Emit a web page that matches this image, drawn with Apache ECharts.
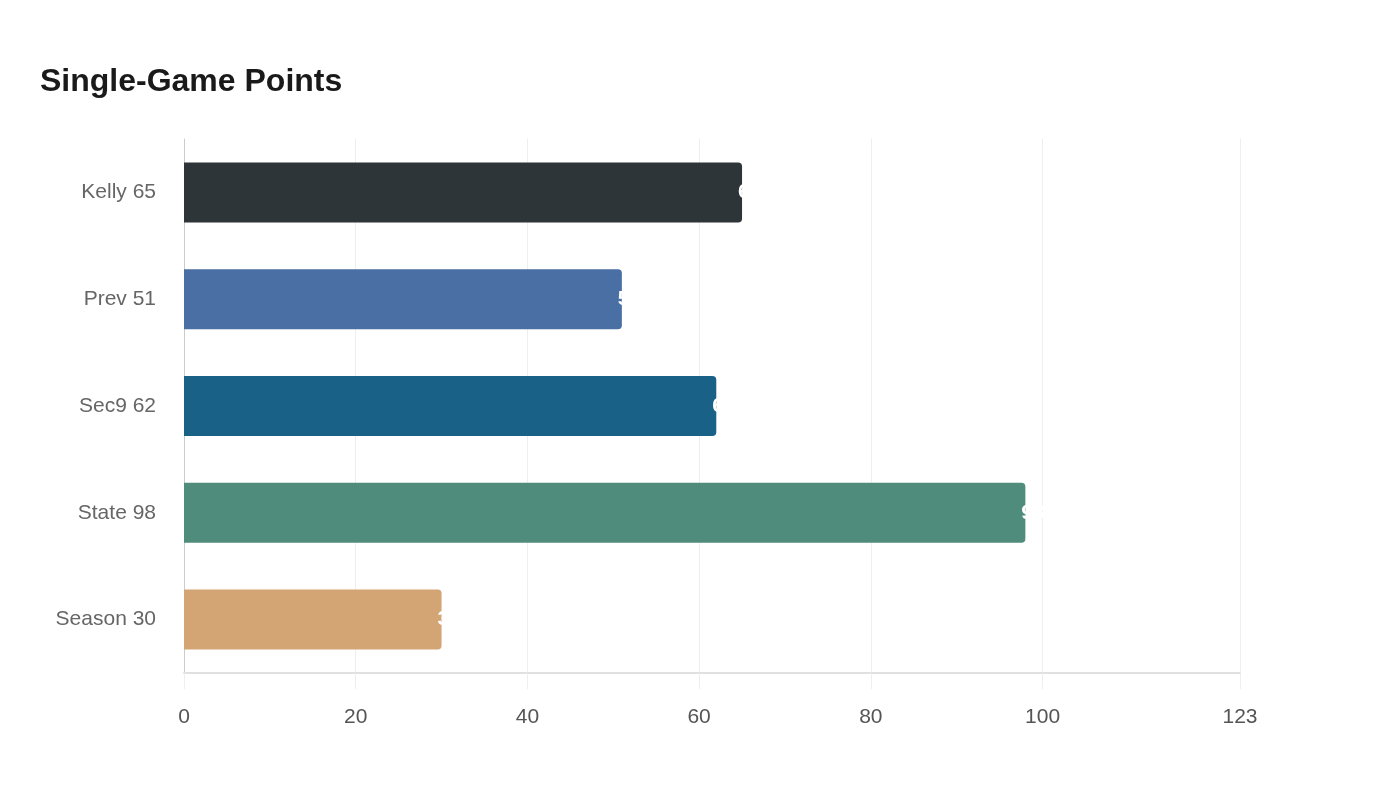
<!DOCTYPE html>
<html>
<head>
<meta charset="utf-8">
<script src="https://cdn.jsdelivr.net/npm/echarts@6/dist/echarts.min.js"></script>
<style>
  html, body { margin: 0; padding: 0; background: #fff; }
  #chart { width: 1400px; height: 800px; }
</style>
</head>
<body>
<div id="chart"></div>
<script>
var categories = ['Kelly 65', 'Prev 51', 'Sec9 62', 'State 98', 'Season 30'];
var values = [65, 51, 62, 98, 30];
var barColors = ['#2d3538', '#4a6fa5', '#1a6188', '#4f8c7b', '#d4a574'];
var tickValues = [0, 20, 40, 60, 80, 100, 123];

var chart = echarts.init(document.getElementById('chart'));
var font = '"Liberation Sans", Arial, sans-serif';

//bars with their own colour each
var barData = [];
for (var i = 0; i < values.length; i++) {
    barData.push({value: values[i], itemStyle: {color: barColors[i]}});
}

var options = {
    backgroundColor: '#fff',
    title: {
        text: 'Single-Game Points',
        left: 35,
        top: 61,
        textStyle: {fontFamily: font, fontSize: 32, fontWeight: 'bold', color: '#1a1a1a'}
    },
    grid: {left: 184, right: 160, top: 139, bottom: 127},
    xAxis: {
        type: 'value',
        min: 0,
        max: 123,
        axisLine: {show: true, lineStyle: {color: '#e0e0e0', width: 2}},
        axisTick: {show: true, length: 16, customValues: tickValues, lineStyle: {color: '#eeeeee', width: 1}},
        axisLabel: {customValues: tickValues, margin: 34, fontFamily: font, fontSize: 21, color: '#555'},
        splitLine: {show: true, lineStyle: {color: '#eeeeee', width: 1}}
    },
    yAxis: {
        type: 'category',
        inverse: true,
        data: categories,
        axisLine: {show: true, lineStyle: {color: '#cccccc', width: 1}},
        axisTick: {show: false},
        axisLabel: {margin: 28, fontFamily: font, fontSize: 21, color: '#666'}
    },
    series: [{
        type: 'bar',
        data: barData,
        barWidth: 60,
        itemStyle: {borderRadius: [0, 4, 4, 0]},
        label: {
            show: true,
            position: 'right',
            distance: -4,
            color: '#fff',
            fontFamily: font,
            fontWeight: 'bold',
            fontSize: 21
        }
    }]
};

chart.setOption(options);
</script>
</body>
</html>
